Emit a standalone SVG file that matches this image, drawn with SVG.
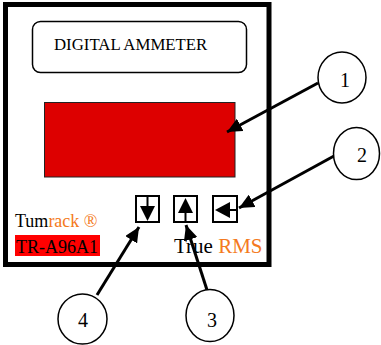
<svg xmlns="http://www.w3.org/2000/svg" width="381" height="345" viewBox="0 0 381 345">
<defs>
<style>
.t{font-family:"Liberation Serif","Times New Roman",serif;fill:#000}
.o{fill:#F47920}
.btn{fill:#fff;stroke:#000;stroke-width:2}
.ln{stroke:#000;stroke-width:2;fill:none}
.call{fill:#fff;stroke:#000;stroke-width:1.5}
.conn{stroke:#000;stroke-width:3;fill:none;marker-end:url(#ah)}
</style>
<marker id="ah" markerUnits="userSpaceOnUse" markerWidth="16" markerHeight="14" refX="15" refY="7" orient="auto" viewBox="0 0 16 14">
<path d="M0,0 L15,7 L0,14 Z" fill="#000"/>
</marker>
</defs>
<rect width="381" height="345" fill="#fff"/>
<g id="meter">
<rect x="5.5" y="4.5" width="263.5" height="260" fill="#fff" stroke="#000" stroke-width="5"/>
</g>
<g id="title">
<rect x="32.5" y="21.5" width="214" height="51" rx="8" fill="#fff" stroke="#000" stroke-width="1.5"/>
<text class="t" x="54" y="50" font-size="16.8">DIGITAL AMMETER</text>
</g>
<g id="display">
<rect x="44.5" y="102.5" width="190.5" height="74.5" fill="#DD0000" stroke="#222" stroke-width="1"/>
</g>
<g id="btn-down">
<rect class="btn" x="136" y="196" width="23" height="26"/>
<line class="ln" x1="147.5" y1="196" x2="147.5" y2="207"/>
<path d="M140,206 L155,206 L147.5,221 Z" fill="#000"/>
</g>
<g id="btn-up">
<rect class="btn" x="174" y="196" width="23" height="26"/>
<path d="M178,213 L193,213 L185.5,198 Z" fill="#000"/>
<line class="ln" x1="185.5" y1="212" x2="185.5" y2="222"/>
</g>
<g id="btn-left">
<rect class="btn" x="213" y="196" width="24" height="26"/>
<path d="M215,210 L230,202 L230,218 Z" fill="#000"/>
<line class="ln" x1="229" y1="210" x2="237" y2="210"/>
</g>
<g id="brand">
<text class="t" x="15" y="227" font-size="18">Tum<tspan class="o">rack ®</tspan></text>
<rect x="15" y="235" width="85" height="21" fill="#FF0000"/>
<text class="t" x="16" y="252.5" font-size="18">TR-A96A1</text>
<text class="t" x="174" y="253" font-size="21">True <tspan class="o">RMS</tspan></text>
</g>
<g id="connectors">
<line class="conn" x1="318" y1="83" x2="227" y2="132"/>
<line class="conn" x1="334" y1="156" x2="239" y2="208"/>
<line class="conn" x1="207" y1="290" x2="186" y2="225"/>
<line class="conn" x1="97" y1="295" x2="139" y2="227"/>
</g>
<g id="c1">
<ellipse class="call" cx="342" cy="77.5" rx="24" ry="25.5"/>
<text class="t" x="345" y="87" font-size="20" text-anchor="middle">1</text>
</g>
<g id="c2">
<ellipse class="call" cx="356.5" cy="153.5" rx="23" ry="26"/>
<text class="t" x="362" y="162" font-size="20" text-anchor="middle">2</text>
</g>
<g id="c3">
<ellipse class="call" cx="210" cy="315.5" rx="24" ry="26"/>
<text class="t" x="212" y="327" font-size="20" text-anchor="middle">3</text>
</g>
<g id="c4">
<ellipse class="call" cx="82.5" cy="319" rx="24.5" ry="25"/>
<text class="t" x="83" y="327" font-size="20" text-anchor="middle">4</text>
</g>
</svg>
